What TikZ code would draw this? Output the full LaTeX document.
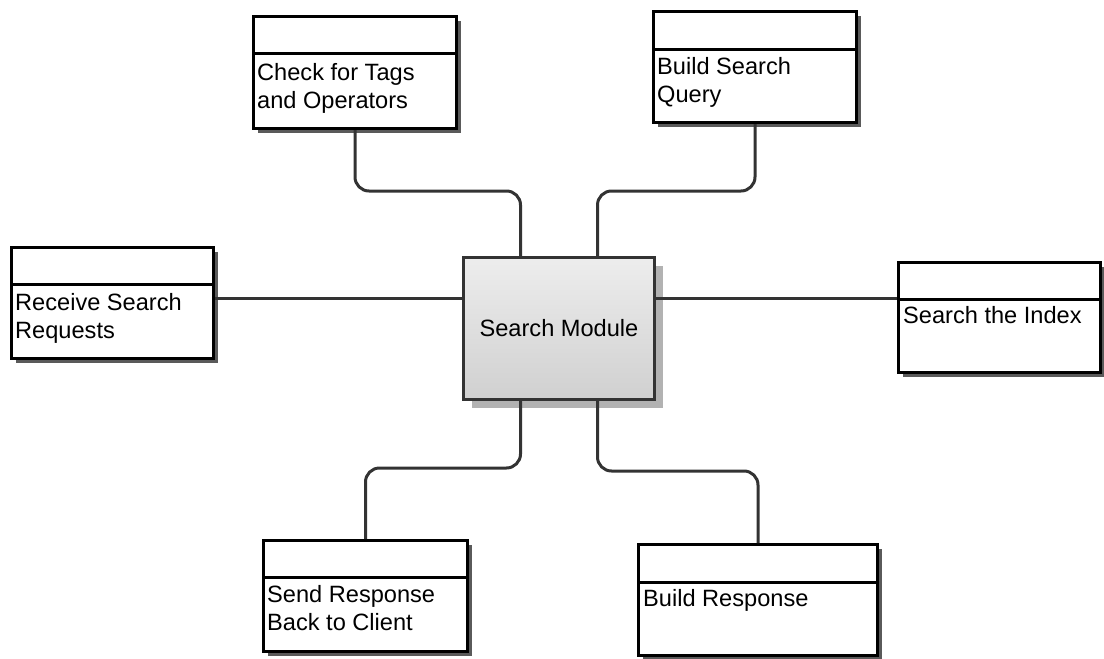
\documentclass[tikz,border=0pt]{standalone}
\usepackage{fontspec}
\setmainfont{Liberation Sans}
\usetikzlibrary{shadows}

\definecolor{wire}{HTML}{333333}
\definecolor{boxshadow}{HTML}{5A5A5A}
\definecolor{hubshadow}{HTML}{B2B2B2}
\definecolor{hubtop}{HTML}{EDEDED}
\definecolor{hubbottom}{HTML}{D0D0D0}

\tikzset{
  taskbox/.style={draw=black, line width=3pt, fill=white, inner sep=0pt,
    drop shadow={shadow xshift=4pt, shadow yshift=-4pt, fill=boxshadow, opacity=1}},
  hub/.style={draw=wire, line width=3pt, inner sep=0pt, top color=hubtop, bottom color=hubbottom,
    drop shadow={shadow xshift=8pt, shadow yshift=-8pt, fill=hubshadow, opacity=1},
    font=\fontsize{23.6}{28}\selectfont},
  divider/.style={line width=3pt, black},
  % anchored at the baseline of the last line
  lbl/.style={font=\fontsize{23.6}{28}\selectfont, align=left, inner sep=0pt, anchor=base west},
  wirestyle/.style={draw=wire, line width=3pt, rounded corners=14pt},
}

\begin{document}
\begin{tikzpicture}[x=1pt, y=-1pt]
\useasboundingbox (0,0) rectangle (1104,659);

% central module
\node[hub, minimum width=191pt, minimum height=142pt] (c) at (559,328.5) {Search Module};

% task boxes
\node[taskbox, minimum width=203pt, minimum height=112pt] (b1) at (355,72.5) {};
\node[taskbox, minimum width=203pt, minimum height=111pt] (b2) at (755,67) {};
\node[taskbox, minimum width=202pt, minimum height=111pt] (b3) at (112.5,303) {};
\node[taskbox, minimum width=202pt, minimum height=110pt] (b4) at (999.5,317.5) {};
\node[taskbox, minimum width=204pt, minimum height=111pt] (b5) at (365.5,596) {};
\node[taskbox, minimum width=239pt, minimum height=111pt] (b6) at (758,600) {};

% header dividers
\draw[divider] (b1.west |- 0,53) -- (b1.east |- 0,53);
\draw[divider] (b2.west |- 0,49) -- (b2.east |- 0,49);
\draw[divider] (b3.west |- 0,284) -- (b3.east |- 0,284);
\draw[divider] (b4.west |- 0,299) -- (b4.east |- 0,299);
\draw[divider] (b5.west |- 0,577) -- (b5.east |- 0,577);
\draw[divider] (b6.west |- 0,582) -- (b6.east |- 0,582);

% labels
\node[lbl] (t1) at (257,108) {Check for Tags\\and Operators};
\node[lbl] (t2) at (657,102) {Build Search\\Query};
\node[lbl] (t3) at (15,338) {Receive Search\\Requests};
\node[lbl] (t4) at (903,323) {Search the Index};
\node[lbl] (t5) at (267,630) {Send Response\\Back to Client};
\node[lbl] (t6) at (643,606) {Build Response};

% connectors
\coordinate (mid) at (0,298);
\draw[wirestyle] (b3.east |- mid) -- (c.west |- mid);
\draw[wirestyle] (c.east |- mid) -- (b4.west |- mid);

\draw[wirestyle] (b1.south) -- (b1.south |- 0,191) -- ([xshift=-38.5pt]c.north |- 0,191) -- ([xshift=-38.5pt]c.north);
\draw[wirestyle] (b2.south) -- (b2.south |- 0,191) -- ([xshift=38.5pt]c.north |- 0,191) -- ([xshift=38.5pt]c.north);
\draw[wirestyle] ([xshift=-38.5pt]c.south) -- ([xshift=-38.5pt]c.south |- 0,468) -- (b5.north |- 0,468) -- (b5.north);
\draw[wirestyle] ([xshift=38.5pt]c.south) -- ([xshift=38.5pt]c.south |- 0,471) -- (b6.north |- 0,471) -- (b6.north);
\end{tikzpicture}
\end{document}
